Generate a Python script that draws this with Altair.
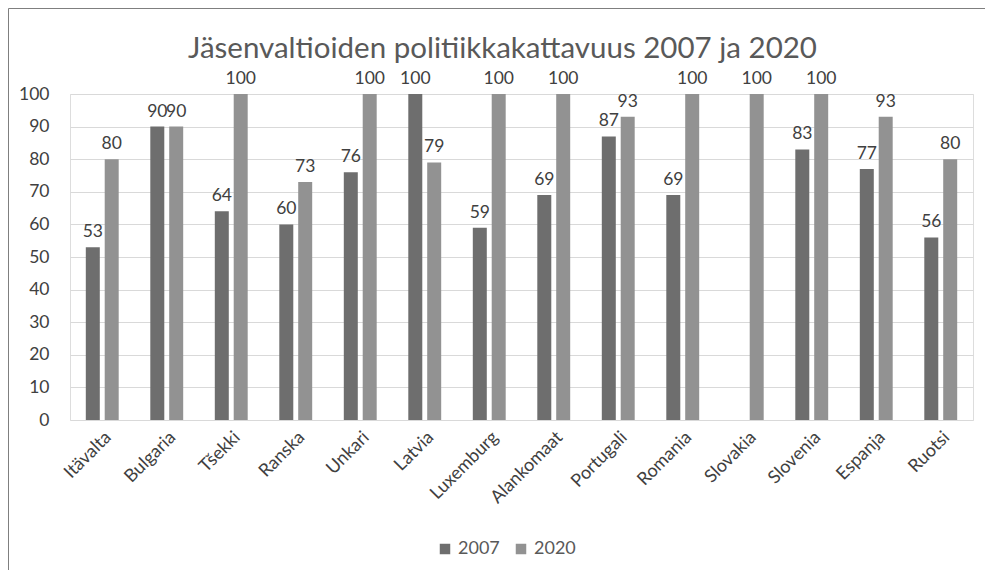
import altair as alt
import pandas as pd

countries = ["Itävalta", "Bulgaria", "Tšekki", "Ranska", "Unkari", "Latvia", "Luxemburg",
             "Alankomaat", "Portugali", "Romania", "Slovakia", "Slovenia", "Espanja", "Ruotsi"]
v2007 = [53, 90, 64, 60, 76, 100, 59, 69, 87, 69, None, 83, 77, 56]
v2020 = [80, 90, 100, 73, 100, 79, 100, 100, 93, 100, 100, 100, 93, 80]
years = ["2007", "2020"]
colors = ["#6e6e6e", "#929292"]
title_text = "Jäsenvaltioiden politiikkakattavuus 2007 ja 2020"

rows = []
for c, a, b in zip(countries, v2007, v2020):
    if a is not None:
        rows.append({"Maa": c, "Vuosi": "2007", "Arvo": a})
    if b is not None:
        rows.append({"Maa": c, "Vuosi": "2020", "Arvo": b})
df = pd.DataFrame(rows)

FONT = "Lato"
W, H = 903, 326

x_enc = alt.X("Maa:N", sort=countries, title=None,
              scale=alt.Scale(paddingInner=0.49, paddingOuter=0.245),
              axis=alt.Axis(labelAngle=-45, labelFontSize=18, labelColor="#404040",
                            labelFont=FONT, domain=False, ticks=False, labelPadding=8))
xo_enc = alt.XOffset("Vuosi:N", sort=years,
                     scale=alt.Scale(domain=years, paddingInner=0.26, paddingOuter=0))
y_enc = alt.Y("Arvo:Q", title=None,
              scale=alt.Scale(domain=[0, 100], nice=False),
              axis=alt.Axis(values=list(range(0, 101, 10)), labelFontSize=17.5,
                            labelColor="#404040", labelFont=FONT, domain=False,
                            ticks=False, labelPadding=21, gridColor="#d9d9d9",
                            gridWidth=1))

base = alt.Chart(df)

bars = base.mark_bar().encode(
    x=x_enc, xOffset=xo_enc, y=y_enc,
    color=alt.Color("Vuosi:N", sort=years,
                    scale=alt.Scale(domain=years, range=colors),
                    legend=alt.Legend(title=None, orient="none", direction="horizontal",
                                      legendX=366, legendY=446, symbolType="square",
                                      symbolSize=110, labelFontSize=18, labelFont=FONT,
                                      labelColor="#595959", columnPadding=12,
                                      symbolStrokeWidth=0)),
)

labels = base.mark_text(baseline="bottom", dy=-6, fontSize=17.5, font=FONT,
                        color="#404040").encode(
    x=x_enc, xOffset=xo_enc, y=y_enc, text=alt.Text("Arvo:Q"),
)

frame = alt.Chart(alt.Data(values=[{"k": 1}])).mark_rect(
    filled=False, stroke="#7f7f7f", strokeWidth=1).encode(
    x=alt.value(-61.5), x2=alt.value(W + 19), y=alt.value(-85.5), y2=alt.value(H + 156)
)

title = alt.Chart(alt.Data(values=[{"t": title_text}])).mark_text(
    fontSize=29.5, font=FONT, color="#595959", baseline="alphabetic", align="center").encode(
    x=alt.value(W / 2 - 19), y=alt.value(-36), text=alt.Text("t:N")
)

chart = alt.layer(frame, title, bars, labels).properties(
    width=W, height=H,
    autosize=alt.AutoSizeParams(type="none"),
    padding={"left": 62, "top": 86, "right": 12, "bottom": 150},
).configure_view(stroke=None).configure(background="white")

chart.save("out.html", embed_options={"renderer": "svg", "actions": False})
